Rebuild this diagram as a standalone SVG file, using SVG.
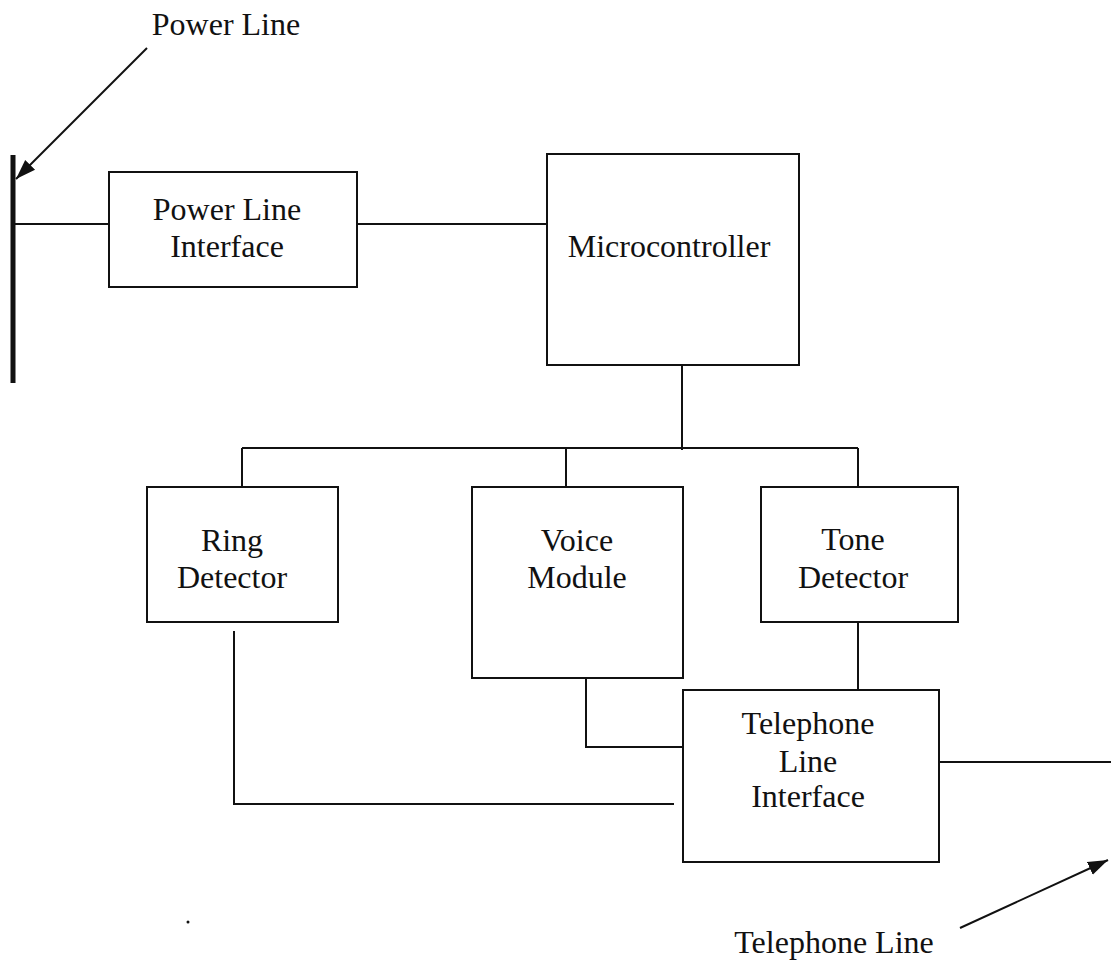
<svg xmlns="http://www.w3.org/2000/svg" width="1111" height="962" viewBox="0 0 1111 962">
<style>
.box{fill:#fff;stroke:#111;stroke-width:2}
.ln{fill:none;stroke:#111;stroke-width:2}
.t{font-family:"Liberation Serif","Times New Roman",serif;font-size:32px;fill:#111;text-anchor:middle}
</style>
<defs>
<marker id="ah" markerUnits="userSpaceOnUse" markerWidth="22" markerHeight="16" refX="20" refY="8" orient="auto">
<path d="M0,1 L20,8 L0,15 Z" fill="#111"/>
</marker>
</defs>
<rect width="1111" height="962" fill="#fff"/>
<g id="connectors">
<line x1="13" y1="155" x2="13" y2="383" stroke="#111" stroke-width="5"/>
<line class="ln" x1="147" y1="48" x2="16" y2="179" marker-end="url(#ah)"/>
<line class="ln" x1="13" y1="224" x2="109" y2="224"/>
<line class="ln" x1="357" y1="224" x2="547" y2="224"/>
<line class="ln" x1="682" y1="357" x2="682" y2="450"/>
<line class="ln" x1="242" y1="448" x2="858" y2="448"/>
<line class="ln" x1="242" y1="448" x2="242" y2="487"/>
<line class="ln" x1="566" y1="448" x2="566" y2="487"/>
<line class="ln" x1="858" y1="448" x2="858" y2="487"/>
<line class="ln" x1="858" y1="617" x2="858" y2="690"/>
<polyline class="ln" points="586,670 586,747 683,747"/>
<polyline class="ln" points="234,631 234,804 674,804"/>
<line class="ln" x1="939" y1="762" x2="1111" y2="762"/>
<line class="ln" x1="960" y1="928" x2="1108" y2="860" marker-end="url(#ah)"/>
<circle cx="188" cy="922" r="1.5" fill="#111"/>
</g>
<g id="power-line-label"><text class="t" x="226" y="35">Power Line</text></g>
<g id="power-line-interface">
<rect class="box" x="109" y="172" width="248" height="115"/>
<text class="t" x="227" y="220">Power Line</text>
<text class="t" x="227" y="257">Interface</text>
</g>
<g id="microcontroller">
<rect class="box" x="547" y="154" width="252" height="211"/>
<text class="t" x="669" y="257">Microcontroller</text>
</g>
<g id="ring-detector">
<rect class="box" x="147" y="487" width="191" height="135"/>
<text class="t" x="232" y="551">Ring</text>
<text class="t" x="232" y="588">Detector</text>
</g>
<g id="voice-module">
<rect class="box" x="472" y="487" width="211" height="191"/>
<text class="t" x="577" y="551">Voice</text>
<text class="t" x="577" y="588">Module</text>
</g>
<g id="tone-detector">
<rect class="box" x="761" y="487" width="197" height="135"/>
<text class="t" x="853" y="550">Tone</text>
<text class="t" x="853" y="588">Detector</text>
</g>
<g id="telephone-line-interface">
<rect class="box" x="683" y="690" width="256" height="172"/>
<text class="t" x="808" y="734">Telephone</text>
<text class="t" x="808" y="772">Line</text>
<text class="t" x="808" y="807">Interface</text>
</g>
<g id="telephone-line-label"><text class="t" x="834" y="953">Telephone Line</text></g>
</svg>
